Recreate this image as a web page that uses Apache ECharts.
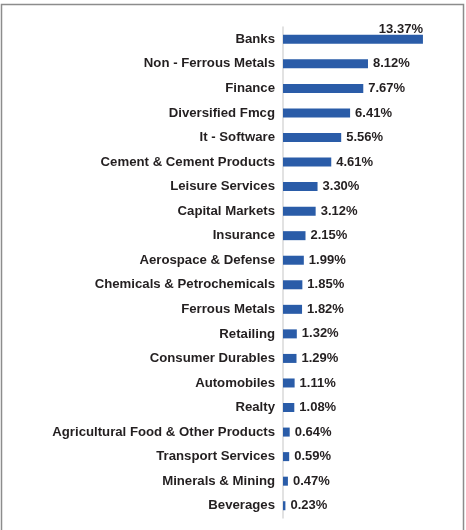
<!DOCTYPE html>
<html>
<head>
<meta charset="utf-8">
<script src="https://cdn.jsdelivr.net/npm/echarts@6/dist/echarts.min.js"></script>
<style>
  html, body { margin: 0; padding: 0; background: #fff; }
  #chart { width: 466px; height: 530px; }
</style>
</head>
<body>
<div id="chart"></div>
<script>
// Sector allocation (% of net assets), largest first
const sectors = [
  'Banks', 'Non - Ferrous Metals', 'Finance', 'Diversified Fmcg', 'It - Software',
  'Cement & Cement Products', 'Leisure Services', 'Capital Markets', 'Insurance',
  'Aerospace & Defense', 'Chemicals & Petrochemicals', 'Ferrous Metals', 'Retailing',
  'Consumer Durables', 'Automobiles', 'Realty', 'Agricultural Food & Other Products',
  'Transport Services', 'Minerals & Mining', 'Beverages'
];
const weights = [
  13.37, 8.12, 7.67, 6.41, 5.56,
  4.61, 3.30, 3.12, 2.15,
  1.99, 1.85, 1.82, 1.32,
  1.29, 1.11, 1.08, 0.64,
  0.59, 0.47, 0.23
];

const FONT = '"Liberation Sans", Arial, sans-serif';
const TEXT = '#231f20';
const BAR = '#2a5ca8';

const chart = echarts.init(document.getElementById('chart'), null, { renderer: 'canvas' });

const seriesData = weights.map((v, i) => {
  const item = { value: v };
  if (i === 0) {
    // the widest bar carries its label above its right end
    item.label = { position: ['100%', 0], align: 'right', verticalAlign: 'bottom', distance: 0, offset: [0, 1] };
  }
  return item;
});

chart.setOption({
  animation: false,
  backgroundColor: '#fff',
  graphic: [{
    type: 'rect',
    shape: { x: 1.5, y: 4.5, width: 462, height: 560 },
    style: { fill: 'none', stroke: '#8c8c8c', lineWidth: 1.5 },
    silent: true
  }],
  grid: { left: 283, right: 26, top: 27, bottom: 12 },
  xAxis: {
    type: 'value', min: 0, max: 15,
    show: false
  },
  yAxis: {
    type: 'category',
    data: sectors,
    inverse: true,
    axisLine: { show: true, lineStyle: { color: '#d9d9d9', width: 1.5 } },
    axisTick: { show: false },
    axisLabel: { color: TEXT, fontFamily: FONT, fontWeight: 'bold', fontSize: 13.2, margin: 8 }
  },
  series: [{
    type: 'bar',
    data: seriesData,
    barWidth: 9,
    itemStyle: { color: BAR },
    label: {
      show: true,
      position: 'right',
      distance: 5,
      color: TEXT,
      fontFamily: FONT,
      fontWeight: 'bold',
      fontSize: 13,
      formatter: p => p.value.toFixed(2) + '%'
    }
  }]
});
</script>
</body>
</html>
